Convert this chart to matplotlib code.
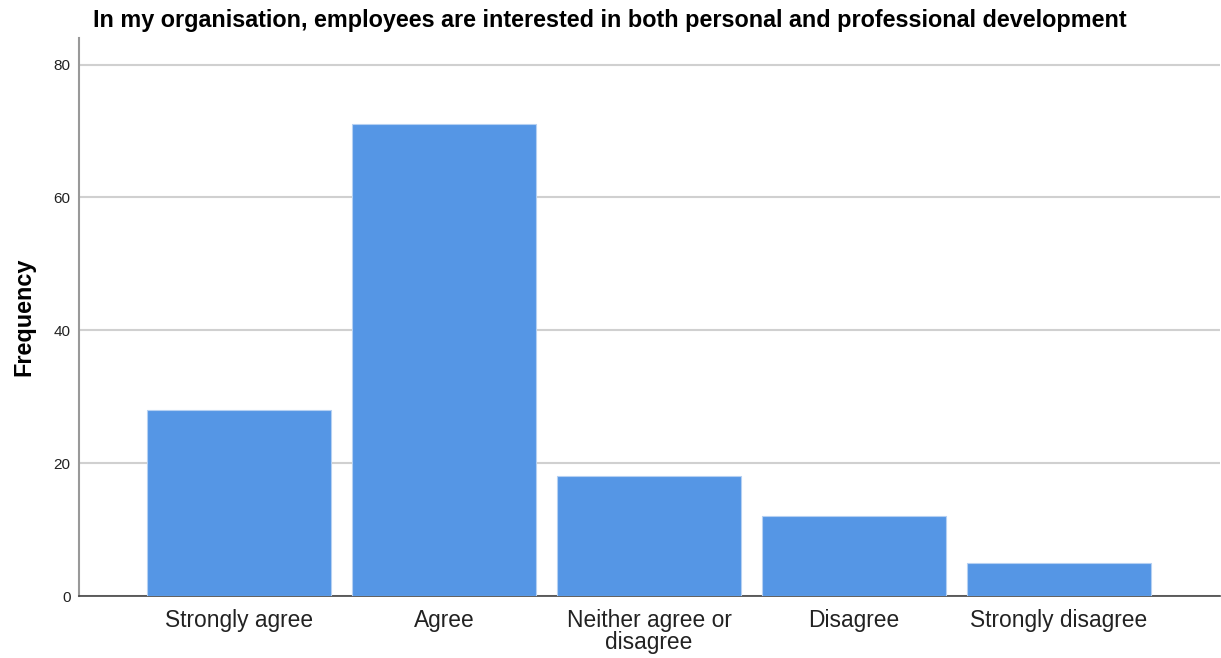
import matplotlib
matplotlib.use("Agg")
import matplotlib.pyplot as plt

# -----------------------------
# Data
# -----------------------------
categories = ["Strongly agree", "Agree", "Neither agree or\ndisagree", "Disagree", "Strongly disagree"]
frequency = [28, 71, 18, 12, 5]
y_ticks = [0, 20, 40, 60, 80]

title = "In my organisation, employees are interested in both personal and professional development"

plt.rcParams['font.family'] = ['Liberation Sans', 'DejaVu Sans']

fig = plt.figure(figsize=(12.21, 6.58), dpi=100)
ax = fig.add_axes([0.0647, 0.0942, 0.9345, 0.848])

x = list(range(len(categories)))
ax.bar(x, frequency, width=0.9, color="#5596e5", edgecolor="#b5d0f2", linewidth=0.8, zorder=3)

ax.set_xlim(-0.78, 4.785)
ax.set_ylim(0, 84)
ax.set_yticks(y_ticks)
ax.set_xticks(x)
ax.set_xticklabels(categories, fontsize=16.4, color="#222222", linespacing=0.95)
ax.tick_params(axis="y", length=0, labelsize=11, pad=6, labelcolor="#222222")
ax.tick_params(axis="x", length=0, pad=9)

ax.yaxis.grid(True, color="#d0d0d0", linewidth=1.5, zorder=0)
ax.set_axisbelow(True)

for side in ["top", "right"]:
    ax.spines[side].set_visible(False)
ax.spines["left"].set_color("#999999")
ax.spines["left"].set_linewidth(1.5)
ax.spines["bottom"].set_color("#444444")
ax.spines["bottom"].set_linewidth(1.2)

ax.set_ylabel("Frequency", fontsize=16.8, fontweight="bold", labelpad=13)
fig.text(0.0762, 0.959, title, fontsize=16.8, fontweight="bold", ha="left", va="baseline")

fig.savefig("out.png", dpi=100)
